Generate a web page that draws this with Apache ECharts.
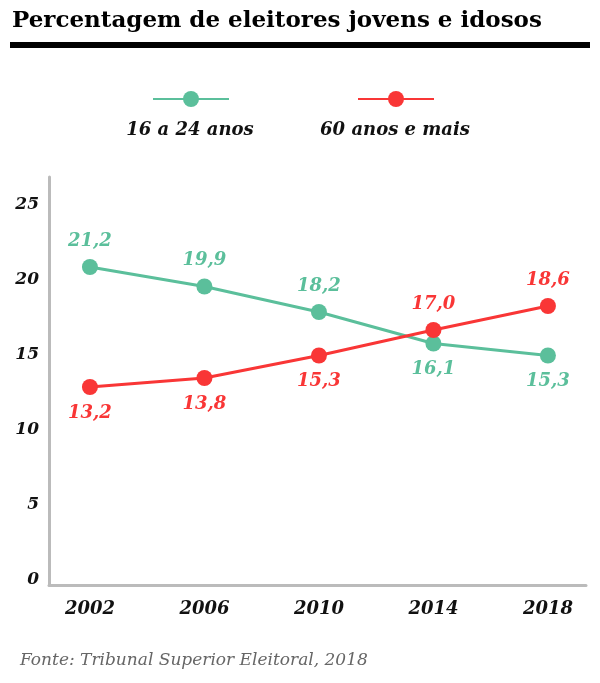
<!DOCTYPE html>
<html>
<head>
<meta charset="utf-8">
<script src="https://cdn.jsdelivr.net/npm/echarts@6/dist/echarts.min.js"></script>
<style>
html,body{margin:0;padding:0;background:#fff;}
#chart{width:600px;height:683px;}
</style>
</head>
<body>
<div id="chart"></div>
<script>
const years = [2002, 2006, 2010, 2014, 2018];
const young = [21.2, 19.9, 18.2, 16.1, 15.3];
const old = [13.2, 13.8, 15.3, 17.0, 18.6];
const yTicks = [0, 5, 10, 15, 20, 25];
const seriesNames = ['16 a 24 anos', '60 anos e mais'];
const titleText = 'Percentagem de eleitores jovens e idosos';
const sourceText = 'Fonte: Tribunal Superior Eleitoral, 2018';

const GREEN = '#5bbf9b';
const RED = '#f93636';
const FONT = '"DejaVu Serif", serif';

function fmt(v){ return v.toFixed(1).replace('.', ','); }

function buildData(vals, other){
  return vals.map((v, i) => ({
    value: [years[i], v],
    label: { position: v >= other[i] ? 'top' : 'bottom' }
  }));
}

function makeSeries(name, vals, other, color){
  return {
    name: name,
    type: 'line',
    data: buildData(vals, other),
    symbol: 'circle',
    symbolSize: 16,
    lineStyle: { color: color, width: 3 },
    itemStyle: { color: color },
    label: {
      show: true,
      distance: 9,
      color: color,
      fontFamily: FONT,
      fontStyle: 'italic',
      fontWeight: 'bold',
      fontSize: 18,
      formatter: p => fmt(p.value[1])
    },
    emphasis: { disabled: true },
    animation: false
  };
}

const chart = echarts.init(document.getElementById('chart'), null, { renderer: 'canvas' });
chart.setOption({
  backgroundColor: '#fff',
  animation: false,
  grid: { left: 49, right: 14, top: 177, bottom: 98, containLabel: false },
  xAxis: {
    type: 'value',
    min: 2000.57,
    max: 2019.33,
    axisLine: { show: true, lineStyle: { color: '#bbbbbb', width: 3 } },
    axisTick: { show: false },
    splitLine: { show: false },
    axisLabel: {
      customValues: years,
      margin: 15,
      color: '#111',
      fontFamily: FONT,
      fontStyle: 'italic',
      fontWeight: 'bold',
      fontSize: 18,
      formatter: v => String(v)
    }
  },
  yAxis: {
    type: 'value',
    min: 0,
    max: 27.2,
    interval: 5,
    axisLine: { show: true, lineStyle: { color: '#bbbbbb', width: 3 } },
    axisTick: { show: false },
    splitLine: { show: false },
    axisLabel: {
      showMaxLabel: false,
      margin: 10,
      verticalAlign: 'bottom',
      lineHeight: 10,
      color: '#111',
      fontFamily: FONT,
      fontStyle: 'italic',
      fontWeight: 'bold',
      fontSize: 17,
      formatter: v => (yTicks.indexOf(v) >= 0 ? String(v) : '')
    }
  },
  legend: [
    { data: [seriesNames[0]], left: 152, top: 89, padding: 0, itemWidth: 76, itemHeight: 20,
      formatter: () => '', selectedMode: false },
    { data: [seriesNames[1]], left: 357, top: 89, padding: 0, itemWidth: 76, itemHeight: 20,
      formatter: () => '', selectedMode: false }
  ],
  graphic: [
    { type: 'text', left: 12, top: 10,
      style: { text: titleText, font: 'bold 23px ' + FONT, fill: '#000' } },
    { type: 'rect', shape: { x: 10, y: 42, width: 580, height: 6 },
      style: { fill: '#000' } },
    { type: 'text', x: 190, y: 130,
      style: { text: seriesNames[0], font: 'italic bold 18px ' + FONT, fill: '#111',
               textAlign: 'center', textVerticalAlign: 'middle' } },
    { type: 'text', x: 395, y: 130,
      style: { text: seriesNames[1], font: 'italic bold 18px ' + FONT, fill: '#111',
               textAlign: 'center', textVerticalAlign: 'middle' } },
    { type: 'text', left: 20, top: 652,
      style: { text: sourceText, font: 'italic 17px ' + FONT, fill: '#666' } }
  ],
  series: [
    makeSeries(seriesNames[0], young, old, GREEN),
    makeSeries(seriesNames[1], old, young, RED)
  ]
});
</script>
</body>
</html>
